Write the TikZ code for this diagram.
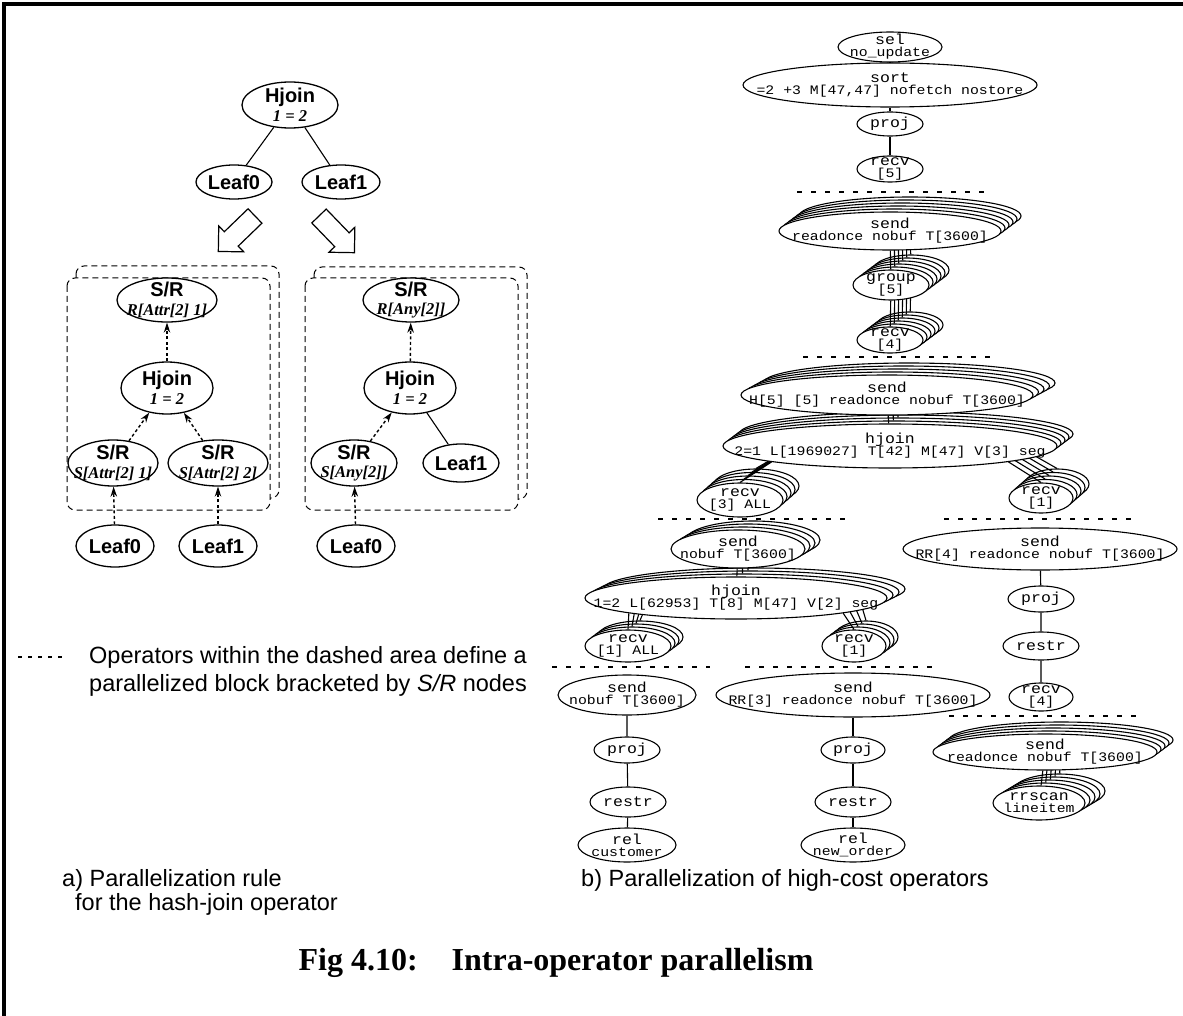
\documentclass[tikz,border=0pt]{standalone}
\usepackage{fontspec}
\setmainfont{Liberation Serif}
\setsansfont{Liberation Sans}
\newfontfamily\pxf[FakeStretch=1.14]{Liberation Mono}
\usetikzlibrary{shapes.geometric,arrows.meta,calc}

% fonts of the two panels
\newcommand\subl[1]{{\rmfamily\bfseries\itshape\fontsize{16.5}{18.5}\selectfont #1}}
\newcommand\pxset{\pxf\fontsize{13}{12}\selectfont\lineskiplimit=-50pt\relax}
\newcommand\optitle[1]{{\fontsize{14.5}{12}\selectfont #1}}

\tikzset{
  rulenode/.style={ellipse, draw, fill=white, line width=1.3, inner sep=-300pt,
    align=center, font=\sffamily\bfseries\fontsize{20}{18.5}\selectfont},
  plain/.style={line width=1.1},
  flow/.style={line width=1.4, dash pattern=on 3pt off 2.5pt,
    -{Stealth[length=10pt,width=6.5pt]}},
  blockbox/.style={draw, dash pattern=on 6pt off 4pt, line width=1, rounded corners=8pt},
  blockarrow/.style={draw, fill=white, line width=1.2, line join=miter},
  legenddash/.style={line width=1.2, dash pattern=on 4pt off 6pt},
  opnode/.style={ellipse, draw, fill=white, line width=1.1, inner sep=-300pt,
    align=center, font=\pxset},
  link/.style={line width=1.1},
  cut/.style={line width=2.2, dash pattern=on 5pt off 9pt},
  txt/.style={inner sep=0pt, font=\sffamily\fontsize{23.5}{28}\selectfont},
}

\begin{document}
\begin{tikzpicture}[x=1pt,y=-1pt]
\useasboundingbox (0,0) rectangle (1183,1016);
\fill[white] (0,0) rectangle (1183,1016);
% frame
\draw[line width=4] (4,1016) -- (4,4) -- (1183,4);

% ---------- a) the rule ----------
\node[rulenode, minimum width=96, minimum height=46] (hj0) at (290,105) {Hjoin\\\subl{1 = 2}};
\node[rulenode, minimum width=76, minimum height=34] (lf0) at (234,182) {Leaf0};
\node[rulenode, minimum width=78, minimum height=34] (lf1) at (341,182) {Leaf1};
\draw[plain] (hj0) -- (lf0) (hj0) -- (lf1);

% hollow block arrows
\begin{scope}[shift={(255,216)}, rotate=224]
  \draw[blockarrow] (0,-10) -- (33,-10) -- (33,-18) -- (51,0) -- (33,18) -- (33,10) -- (0,10) -- cycle;
\end{scope}
\begin{scope}[shift={(319,216)}, rotate=-46]
  \draw[blockarrow] (0,-10) -- (33,-10) -- (33,-18) -- (51,0) -- (33,18) -- (33,10) -- (0,10) -- cycle;
\end{scope}

% dashed blocks (stacked)
\draw[blockbox] (76,266) rectangle (279,498);
\draw[blockbox, fill=white] (67,278) rectangle (270,510);
\draw[blockbox] (314,267) rectangle (527,499);
\draw[blockbox, fill=white] (305,278) rectangle (518,510);

% left block: partitioned on the join attribute
\node[rulenode, minimum width=100, minimum height=44] (srA) at (167,300) {S/R\\\subl{R[Attr[2] 1]}};
\node[rulenode, minimum width=92, minimum height=52] (hjA) at (167,388) {Hjoin\\\subl{1 = 2}};
\node[rulenode, minimum width=90, minimum height=46] (srB) at (113,463) {S/R\\\subl{S[Attr[2] 1]}};
\node[rulenode, minimum width=100, minimum height=46] (srC) at (218,463) {S/R\\\subl{S[Attr[2] 2]}};
\node[rulenode, minimum width=78, minimum height=42] (lfA) at (115,546) {Leaf0};
\node[rulenode, minimum width=78, minimum height=42] (lfB) at (218,546) {Leaf1};
\draw[flow] (lfA) -- (srB);
\draw[flow] (lfB) -- (srC);
\draw[flow] (srB) -- (hjA);
\draw[flow] (srC) -- (hjA);
\draw[flow] (hjA) -- (srA);

% right block: one input replicated
\node[rulenode, minimum width=96, minimum height=44] (srD) at (411,300) {S/R\\\subl{R[Any[2]]}};
\node[rulenode, minimum width=92, minimum height=52] (hjB) at (410,388) {Hjoin\\\subl{1 = 2}};
\node[rulenode, minimum width=86, minimum height=46] (srE) at (354,463) {S/R\\\subl{S[Any[2]]}};
\node[rulenode, minimum width=76, minimum height=38] (lfC) at (461,463) {Leaf1};
\node[rulenode, minimum width=78, minimum height=42] (lfD) at (356,546) {Leaf0};
\draw[flow] (lfD) -- (srE);
\draw[flow] (srE) -- (hjB);
\draw[flow] (hjB) -- (srD);
\draw[plain] (hjB) -- (lfC);

% legend
\draw[legenddash] (18,657) -- (62,657);
\node[txt, anchor=west, align=left] (legend) at (89,671)
  {Operators within the dashed area define a\\parallelized block bracketed by \textit{S/R} nodes};

\node[txt, anchor=west] (capa1) at (62,880) {a) Parallelization rule};
\node[txt, anchor=west] (capa2) at (75,904) {for the hash-join operator};
\node[txt, anchor=west] (capb) at (581,880) {b) Parallelization of high-cost operators};
\node[inner sep=0pt, font=\rmfamily\bfseries\fontsize{32}{32}\selectfont] (cap) at (556,963)
  {Fig 4.10:\hspace{34pt}Intra-operator parallelism};

% ---------- b) the parallel plan ----------
% top fragment
\node[opnode, minimum width=104, minimum height=30] (sel) at (890,47) {\optitle{sel}\\no\_update};
\node[opnode, minimum width=294, minimum height=44] (sort) at (890,85) {\optitle{sort}\\=2 +3 M[47,47] nofetch nostore};
\node[opnode, minimum width=66, minimum height=24] (pj0) at (890,124) {\optitle{proj}};
\node[opnode, minimum width=66, minimum height=26] (rc5) at (890,169) {\optitle{recv}\\{[5]}};
\draw[link] (sel) -- (sort) (sort) -- (pj0) (pj0) -- (rc5);

\draw[cut] (797,192) -- (988,192);

% group-by fragment, five instances
\foreach \k in {5,...,1}{
  \node[opnode, minimum width=222, minimum height=38] (snd1-\k) at ({890+4*\k},{231-3*\k}) {};
  \node[opnode, minimum width=76, minimum height=30] (grp-\k) at ({891+4*\k},{285-3*\k}) {};
  \node[opnode, minimum width=66, minimum height=26] (rcv4-\k) at ({890+4*\k},{340-3*\k}) {};
  \draw[link] (snd1-\k) -- (grp-\k) (grp-\k) -- (rcv4-\k);
}
\node[opnode, minimum width=222, minimum height=38] (snd1) at (890,231) {\optitle{send}\\readonce nobuf T[3600]};
\node[opnode, minimum width=76, minimum height=30] (grp) at (891,285) {\optitle{group}\\{[5]}};
\node[opnode, minimum width=66, minimum height=26] (rcv4) at (890,340) {\optitle{recv}\\{[4]}};
\draw[link] (snd1) -- (grp) (grp) -- (rcv4);

\draw[cut] (803,357) -- (997,357);

% upper join fragment, four instances
\foreach \k in {4,...,1}{
  \node[opnode, minimum width=292, minimum height=40] (snd2-\k) at ({887+5.5*\k},{395-3*\k}) {};
  \node[opnode, minimum width=334, minimum height=44] (hj1-\k) at ({890+4*\k},{446-3*\k}) {};
  \node[opnode, minimum width=86, minimum height=34] (rc3-\k) at ({740+4*\k},{500-3.5*\k}) {};
  \node[opnode, minimum width=64, minimum height=30] (rc1r-\k) at ({1041+4*\k},{498-3.5*\k}) {};
  \draw[link] (snd2-\k) -- (hj1-\k) (hj1-\k.south west) -- (rc3-\k.north)
              (hj1-\k.south east) -- (rc1r-\k.north);
}
\node[opnode, minimum width=292, minimum height=40] (snd2) at (887,395) {\optitle{send}\\H[5] [5] readonce nobuf T[3600]};
\node[opnode, minimum width=334, minimum height=44] (hj1) at (890,446) {\optitle{hjoin}\\2=1 L[1969027] T[42] M[47] V[3] seg};
\node[opnode, minimum width=86, minimum height=34] (rc3) at (740,500) {\optitle{recv}\\{[3] ALL}};
\node[opnode, minimum width=64, minimum height=30] (rc1r) at (1041,498) {\optitle{recv}\\{[1]}};
\draw[link] (snd2) -- (hj1) (hj1.south west) -- (rc3.north) (hj1.south east) -- (rc1r.north);

\draw[cut] (658,519) -- (852,519);
\draw[cut] (944,519) -- (1137,519);

% lower join fragment, three instances
\foreach \k in {3,...,1}{
  \node[opnode, minimum width=134, minimum height=38] (snd3-\k) at ({738+5*\k},{549-3*\k}) {};
  \node[opnode, minimum width=302, minimum height=42] (hj2-\k) at ({736+6*\k},{598-3*\k}) {};
  \node[opnode, minimum width=86, minimum height=32] (rc1a-\k) at ({628+4*\k},{646-3*\k}) {};
  \node[opnode, minimum width=64, minimum height=32] (rc1m-\k) at ({854+4*\k},{646-3*\k}) {};
  \draw[link] (snd3-\k) -- (hj2-\k) (hj2-\k.south west) -- (rc1a-\k.north)
              (hj2-\k.south east) -- (rc1m-\k.north);
}
\node[opnode, minimum width=134, minimum height=38] (snd3) at (738,549) {\optitle{send}\\nobuf T[3600]};
\node[opnode, minimum width=302, minimum height=42] (hj2) at (736,598) {\optitle{hjoin}\\1=2 L[62953] T[8] M[47] V[2] seg};
\node[opnode, minimum width=86, minimum height=32] (rc1a) at (628,646) {\optitle{recv}\\{[1] ALL}};
\node[opnode, minimum width=64, minimum height=32] (rc1m) at (854,646) {\optitle{recv}\\{[1]}};
\draw[link] (snd3) -- (hj2) (hj2.south west) -- (rc1a.north) (hj2.south east) -- (rc1m.north);

% right column fragment
\node[opnode, minimum width=274, minimum height=42] (sRR4) at (1040,549) {\optitle{send}\\RR[4] readonce nobuf T[3600]};
\node[opnode, minimum width=66, minimum height=26] (pj1) at (1041,599) {\optitle{proj}};
\node[opnode, minimum width=76, minimum height=28] (rs1) at (1041,646) {\optitle{restr}};
\node[opnode, minimum width=64, minimum height=28] (rc4b) at (1041,697) {\optitle{recv}\\{[4]}};
\draw[link] (sRR4) -- (pj1) (pj1) -- (rs1) (rs1) -- (rc4b);

\draw[cut] (552,667) -- (710,667);
\draw[cut] (745,667) -- (938,667);
\draw[cut] (949,716) -- (1143,716);

% customer scan
\node[opnode, minimum width=138, minimum height=40] (sN) at (627,695) {\optitle{send}\\nobuf T[3600]};
\node[opnode, minimum width=66, minimum height=26] (pj2) at (627,750) {\optitle{proj}};
\node[opnode, minimum width=76, minimum height=30] (rs2) at (628,802) {\optitle{restr}};
\node[opnode, minimum width=98, minimum height=34] (rl1) at (627,845) {\optitle{rel}\\customer};
\draw[link] (sN) -- (pj2) (pj2) -- (rs2) (rs2) -- (rl1);

% new_order scan
\node[opnode, minimum width=274, minimum height=44] (sRR3) at (853,695) {\optitle{send}\\RR[3] readonce nobuf T[3600]};
\node[opnode, minimum width=64, minimum height=26] (pj3) at (853,750) {\optitle{proj}};
\node[opnode, minimum width=76, minimum height=30] (rs3) at (853,802) {\optitle{restr}};
\node[opnode, minimum width=104, minimum height=34] (rl2) at (853,845) {\optitle{rel}\\new\_order};
\draw[link] (sRR3) -- (pj3) (pj3) -- (rs3) (rs3) -- (rl2);

% lineitem scan, four instances
\foreach \k in {4,...,1}{
  \node[opnode, minimum width=224, minimum height=36] (snd4-\k) at ({1045+4*\k},{752-3*\k}) {};
  \node[opnode, minimum width=92, minimum height=34] (rrs-\k) at ({1039+5*\k},{803-3*\k}) {};
  \draw[link] (snd4-\k) -- (rrs-\k);
}
\node[opnode, minimum width=224, minimum height=36] (snd4) at (1045,752) {\optitle{send}\\readonce nobuf T[3600]};
\node[opnode, minimum width=92, minimum height=34] (rrs) at (1039,803) {\optitle{rrscan}\\lineitem};
\draw[link] (snd4) -- (rrs);
\end{tikzpicture}
\end{document}
